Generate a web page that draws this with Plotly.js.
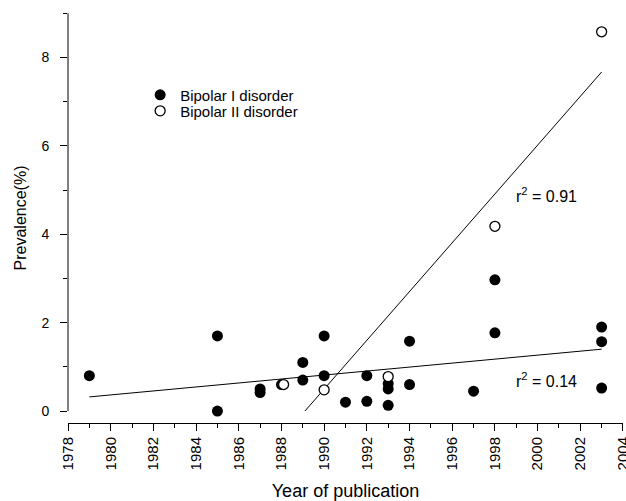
<!DOCTYPE html>
<html>
<head>
<meta charset="utf-8">
<script src="https://cdn.plot.ly/plotly-3.0.1.min.js"></script>
<style>html,body{margin:0;padding:0;background:#fff;}#chart{width:626px;height:501px;}</style>
</head>
<body>
<div id="chart"></div>
<script>
// Bipolar I disorder (filled circles)
var bp1Years  = [1979, 1985, 1985, 1987, 1987, 1988, 1989, 1989, 1990, 1990, 1991, 1992, 1992, 1993, 1993, 1993, 1994, 1994, 1997, 1998, 1998, 2003, 2003, 2003];
var bp1Values = [0.8,  1.7,  0.0,  0.5,  0.42, 0.6,  1.1,  0.7,  1.7,  0.8,  0.2,  0.8,  0.22, 0.62, 0.5,  0.13, 1.58, 0.6,  0.45, 2.97, 1.77, 1.9,  1.57, 0.52];
// Bipolar II disorder (open circles)
var bp2Years  = [1988.1, 1990, 1993, 1998, 2003];
var bp2Values = [0.6,    0.48, 0.78, 4.18, 8.58];
// Regression lines (end points)
var fit1Years  = [1979, 2003];
var fit1Values = [0.32, 1.40];
var fit2Years  = [1989.1, 2003];
var fit2Values = [0.0, 7.67];
var r2Labels = ["r<sup>2</sup> = 0.91", "r<sup>2</sup> = 0.14"];
var r2X = [1998.9, 1998.9];
var r2Y = [4.89, 0.70];

var FONT = "Liberation Sans, Arial, Helvetica, sans-serif";

var traces = [
  {x: fit1Years, y: fit1Values, mode: 'lines', line: {color: '#000', width: 1}, showlegend: false, hoverinfo: 'skip'},
  {x: fit2Years, y: fit2Values, mode: 'lines', line: {color: '#000', width: 1}, showlegend: false, hoverinfo: 'skip'},
  {x: bp1Years, y: bp1Values, mode: 'markers', name: 'Bipolar I disorder', legend: 'legend',
   marker: {symbol: 'circle', size: 11, color: '#000', line: {color: '#000', width: 0}}},
  {x: bp2Years, y: bp2Values, mode: 'markers', name: 'Bipolar II disorder', legend: 'legend2',
   marker: {symbol: 'circle', size: 10, color: '#fff', line: {color: '#000', width: 1.3}}}
];

var annotations = r2Labels.map(function (t, i) {
  return {x: r2X[i], y: r2Y[i], xref: 'x', yref: 'y', text: t, showarrow: false,
          xanchor: 'left', yanchor: 'middle', font: {family: FONT, size: 16, color: '#000'}};
});

var legendFont = {family: FONT, size: 15, color: '#000'};

var layout = {
  width: 626, height: 501,
  margin: {l: 68, r: 3, t: 13, b: 78, pad: 0},
  paper_bgcolor: '#fff', plot_bgcolor: '#fff',
  font: {family: FONT, size: 14, color: '#000'},
  showlegend: true,
  legend: {x: 0.13, y: 0.84, xanchor: 'left', yanchor: 'top', bgcolor: 'rgba(0,0,0,0)', font: legendFont},
  legend2: {x: 0.13, y: 0.801, xanchor: 'left', yanchor: 'top', bgcolor: 'rgba(0,0,0,0)', font: legendFont},
  xaxis: {
    range: [1978, 2004.001], tick0: 1978, dtick: 2, tickangle: -90,
    ticks: 'outside', ticklen: 7, tickwidth: 1, tickcolor: '#000',
    ticklabeloverflow: 'allow',
    showline: true, linecolor: '#000', linewidth: 1,
    showgrid: false, zeroline: false,
    tickfont: {family: FONT, size: 15, color: '#000'},
    minor: {dtick: 1, ticks: 'outside', ticklen: 4, tickwidth: 1, tickcolor: '#000', showgrid: false},
    title: {text: 'Year of publication', font: {family: FONT, size: 18, color: '#000'}, standoff: 15}
  },
  yaxis: {
    range: [-0.27, 9.005], tick0: 0, dtick: 2,
    ticks: 'outside', ticklen: 7, tickwidth: 1, tickcolor: '#000',
    showline: false, showgrid: false, zeroline: false,
    ticklabelstandoff: 8,
    tickfont: {family: FONT, size: 14, color: '#000'},
    minor: {dtick: 1, ticks: 'outside', ticklen: 4, tickwidth: 1, tickcolor: '#000', showgrid: false},
    title: {text: 'Prevalence(%)', font: {family: FONT, size: 16, color: '#000'}, standoff: 10}
  },
  shapes: [
    {type: 'line', xref: 'paper', yref: 'y', x0: 0, x1: 0, y0: 0, y1: 9, line: {color: '#000', width: 1}}
  ],
  annotations: annotations
};

Plotly.newPlot('chart', traces, layout, {displayModeBar: false, staticPlot: true});
</script>
</body>
</html>
